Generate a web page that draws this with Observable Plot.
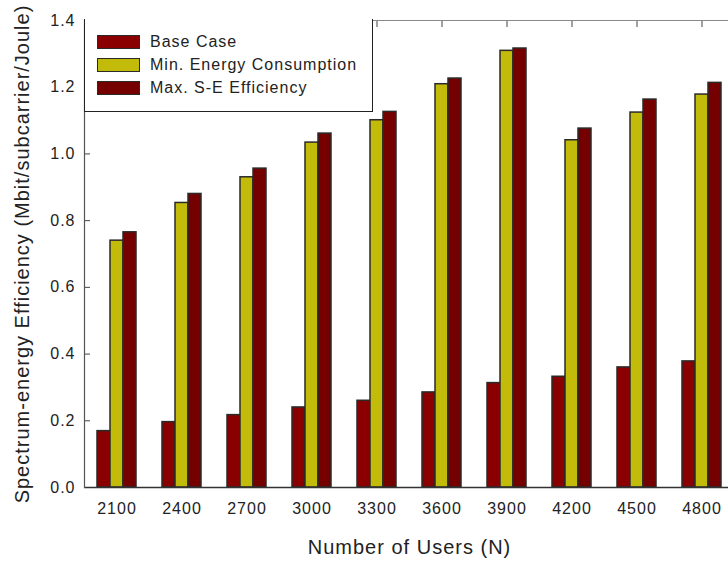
<!DOCTYPE html>
<html><head><meta charset="utf-8">
<script src="https://cdn.jsdelivr.net/npm/d3@7"></script>
<script src="https://cdn.jsdelivr.net/npm/@observablehq/plot@0.6"></script>
<style>
html,body{margin:0;padding:0;overflow:hidden;background:#fff;width:728px;height:563px}
#wrap{position:relative;width:740px;height:563px;font-family:"Liberation Sans",Arial,sans-serif}
#legend{position:absolute;left:84px;top:19px;width:289px;height:93px;border:1.5px solid #222;border-top:none;box-sizing:border-box;background:#fff}
.item{position:absolute;left:12px;height:14px;display:flex;align-items:center}
.sw{width:43px;height:14px;box-sizing:border-box;border:1.5px solid #2a2a2a}
.lab{margin-left:10px;font-size:16px;letter-spacing:1px;color:#222;line-height:14px;white-space:nowrap}
</style></head>
<body><div id="wrap"><div id="chart"></div><div id="legend"></div></div>
<script>
const users = ["2100","2400","2700","3000","3300","3600","3900","4200","4500","4800"];
const baseCase  = [0.169,0.196,0.217,0.240,0.260,0.285,0.313,0.332,0.360,0.378];
const minEnergy = [0.740,0.853,0.930,1.034,1.101,1.209,1.309,1.041,1.124,1.178];
const maxSE     = [0.765,0.880,0.956,1.061,1.126,1.226,1.316,1.076,1.163,1.213];
const seriesNames  = ["Base Case","Min. Energy Consumption","Max. S-E Efficiency"];
const seriesColors = ["#8a0000","#c2bb0a","#750000"];
const yTicks = [0,0.2,0.4,0.6,0.8,1.0,1.2,1.4];

const rows = users.map((u,i)=>({users:u, base:baseCase[i], minE:minEnergy[i], maxSE:maxSE[i]}));
const fields = ["base","minE","maxSE"];
const barStroke = "#2a2a2a";
const font = {fontSize:16, fill:"#222"};

const bars = fields.map((f,k)=>Plot.barY(rows,{x:"users", y:f, fill:seriesColors[k], stroke:barStroke, strokeWidth:1.5,
  insetLeft:13*k, insetRight:13*(2-k)}));

const chart = Plot.plot({
  width:740, height:563,
  marginLeft:84, marginRight:6, marginTop:20, marginBottom:76,
  style:{fontFamily:"'Liberation Sans', Arial, sans-serif", background:"#fff", letterSpacing:"1px"},
  x:{type:"band", domain:users, paddingInner:0.4, paddingOuter:0.2, round:false},
  y:{domain:[0,1.4]},
  marks:[
    Plot.frame({stroke:"#8a8a8a"}),
    Plot.axisY(yTicks,{anchor:"left", tickSize:6, dx:6, fill:"none", stroke:"#444", label:null}),
    Plot.axisY(yTicks,{anchor:"right", tickSize:6, dx:-6, fill:"none", stroke:"#444", label:null}),
    Plot.axisX({anchor:"top", tickSize:6, dy:6, fill:"none", stroke:"#444", label:null}),
    Plot.axisY(yTicks,{anchor:"left", tickSize:0, tickPadding:9, tickFormat:d=>d.toFixed(1), ...font, label:null}),
    Plot.axisX({anchor:"bottom", tickSize:0, tickPadding:15, ...font, label:null}),
    ...bars,
    Plot.ruleY([0],{stroke:"#333", strokeWidth:1.5}),
    Plot.frame({anchor:"left", stroke:"#555", strokeWidth:1.2}),
    Plot.text(["Number of Users (N)"],{frameAnchor:"bottom", dy:66, fontSize:20, fill:"#222"}),
    Plot.text(["Spectrum-energy Efficiency (Mbit/subcarrier/Joule)"],{frameAnchor:"left", dx:-62, rotate:-90, textAnchor:"middle", fontSize:20, fill:"#222", letterSpacing:"0.8px"})
  ]
});
document.getElementById("chart").appendChild(chart);

const lg = document.getElementById("legend");
seriesNames.forEach((n,i)=>{
  const it = document.createElement("div");
  it.className="item"; it.style.top=(16+23*i)+"px";
  const sw = document.createElement("div"); sw.className="sw"; sw.style.background=seriesColors[i];
  const lb = document.createElement("span"); lb.className="lab"; lb.textContent=n;
  it.appendChild(sw); it.appendChild(lb); lg.appendChild(it);
});
</script></body></html>
